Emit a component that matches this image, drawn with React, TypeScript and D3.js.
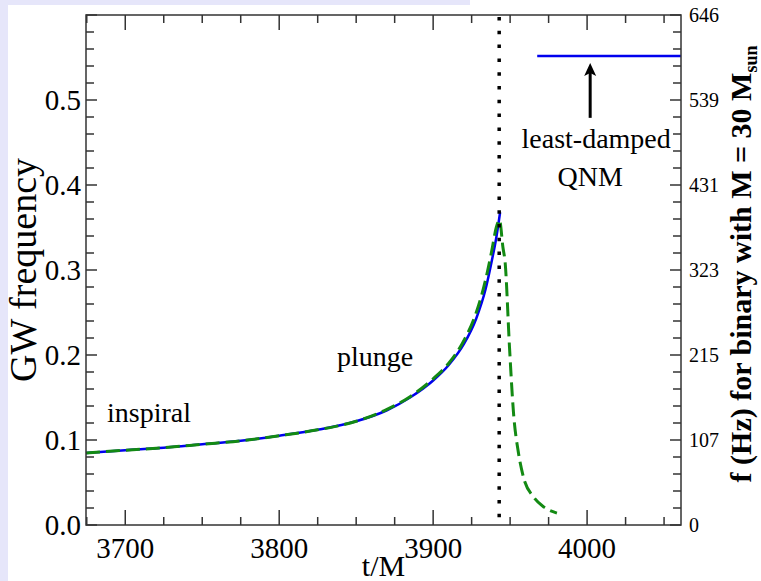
import React, { useEffect, useRef } from "react";
import * as d3 from "d3";

// axis labels / ticks
const xMajorTicks = [3700, 3800, 3900, 4000];
const yMajorTicks = [0, 0.1, 0.2, 0.3, 0.4, 0.5];
const hzTickLabels = ["0", "107", "215", "323", "431", "539", "646"];

// numerical relativity frequency (solid blue)
const blueTime = [3674.5, 3700, 3725, 3750, 3775, 3800, 3825, 3850, 3870, 3885, 3900, 3910, 3920, 3928, 3934, 3938, 3941, 3943.5];
const blueFreq = [0.0847, 0.088, 0.091, 0.095, 0.099, 0.105, 0.112, 0.122, 0.135, 0.15, 0.17, 0.188, 0.213, 0.243, 0.277, 0.31, 0.338, 0.368];

// model frequency (dashed green)
const greenTime = [3674.5, 3700, 3725, 3750, 3775, 3800, 3825, 3850, 3870, 3885, 3900, 3910, 3920, 3928, 3934, 3938, 3941, 3943.1, 3945.3, 3946.8, 3949.6, 3952.2, 3955.4, 3958.7, 3965.2, 3972, 3980.4];
const greenFreq = [0.0847, 0.088, 0.091, 0.095, 0.099, 0.105, 0.112, 0.122, 0.136, 0.151, 0.172, 0.19, 0.217, 0.25, 0.288, 0.322, 0.35, 0.359, 0.327, 0.308, 0.209, 0.132, 0.085, 0.056, 0.033, 0.021, 0.014];

const mergerTime = 3942.9;
const qnmTime = [3967.6, 4061];
const qnmFreq = 0.5518;
const arrowTime = 4002;
const arrowFreq = [0.479, 0.5435];

const Chart = () => {
  const ref = useRef<SVGSVGElement>(null);

  useEffect(() => {
    const width = 761;
    const height = 581;
    const margin = { top: 15, right: 80, bottom: 56, left: 86 };
    const serif = "'Liberation Serif', 'Times New Roman', serif";

    const svg = d3.select(ref.current);
    svg.selectAll("*").remove();
    svg.attr("width", width).attr("height", height);

    // lavender page strips
    svg.append("rect").attr("x", 0).attr("y", 0).attr("width", 470).attr("height", 5).attr("fill", "#e6e6fa");
    svg.append("rect").attr("x", 0).attr("y", 0).attr("width", 8).attr("height", height).attr("fill", "#e6e6fa");

    const x = d3
      .scaleLinear()
      .domain([3674.5, 4061])
      .range([margin.left, width - margin.right]);
    const y = d3
      .scaleLinear()
      .domain([0, 0.6])
      .range([height - margin.bottom, margin.top]);

    const x0 = x.range()[0];
    const x1 = x.range()[1];
    const y0 = y.range()[0];
    const y1 = y.range()[1];

    const g = svg.append("g");

    // curves
    const line = d3
      .line<[number, number]>()
      .x((d) => x(d[0]))
      .y((d) => y(d[1]))
      .curve(d3.curveMonotoneX);

    g.append("path")
      .attr("d", line(blueTime.map((t, i) => [t, blueFreq[i]]) as [number, number][]))
      .attr("fill", "none")
      .attr("stroke", "#0000ee")
      .attr("stroke-width", 2.5);

    g.append("path")
      .attr("d", line(greenTime.map((t, i) => [t, greenFreq[i]]) as [number, number][]))
      .attr("fill", "none")
      .attr("stroke", "#138a13")
      .attr("stroke-width", 3)
      .attr("stroke-dasharray", "14 6");

    // merger marker
    g.append("line")
      .attr("x1", x(mergerTime))
      .attr("x2", x(mergerTime))
      .attr("y1", y1 + 2)
      .attr("y2", y0)
      .attr("stroke", "black")
      .attr("stroke-width", 3.5)
      .attr("stroke-dasharray", "3.5 10.3");

    // QNM line
    g.append("line")
      .attr("x1", x(qnmTime[0]))
      .attr("x2", x(qnmTime[1]))
      .attr("y1", y(qnmFreq))
      .attr("y2", y(qnmFreq))
      .attr("stroke", "#0000ee")
      .attr("stroke-width", 2.5);

    // arrow
    const ax = x(arrowTime);
    const tip = y(arrowFreq[1]);
    g.append("line")
      .attr("x1", ax)
      .attr("x2", ax)
      .attr("y1", y(arrowFreq[0]))
      .attr("y2", tip + 8)
      .attr("stroke", "black")
      .attr("stroke-width", 3);
    g.append("path")
      .attr("d", `M${ax},${tip} L${ax - 6},${tip + 13} L${ax},${tip + 10} L${ax + 6},${tip + 13} Z`)
      .attr("fill", "black");

    // frame
    const axisColor = "#333";
    g.append("rect")
      .attr("x", x0)
      .attr("y", y1)
      .attr("width", x1 - x0)
      .attr("height", y0 - y1)
      .attr("fill", "none")
      .attr("stroke", axisColor)
      .attr("stroke-width", 1.5);

    const xMinor = d3.range(3675, 4061, 25).filter((v) => !xMajorTicks.includes(v));
    const yMinor = d3.range(0, 31).map((i) => i * 0.02);

    const ticks = g.append("g").attr("stroke", axisColor).attr("stroke-width", 1.5);
    xMajorTicks.forEach((v) => {
      ticks.append("line").attr("x1", x(v)).attr("x2", x(v)).attr("y1", y0).attr("y2", y0 - 15);
      ticks.append("line").attr("x1", x(v)).attr("x2", x(v)).attr("y1", y1).attr("y2", y1 + 15);
    });
    xMinor.forEach((v) => {
      ticks.append("line").attr("x1", x(v)).attr("x2", x(v)).attr("y1", y0).attr("y2", y0 - 8);
      ticks.append("line").attr("x1", x(v)).attr("x2", x(v)).attr("y1", y1).attr("y2", y1 + 8);
    });
    yMinor.forEach((v, i) => {
      const len = i % 5 === 0 ? 11 : 8;
      ticks.append("line").attr("x1", x0).attr("x2", x0 + len).attr("y1", y(v)).attr("y2", y(v));
      ticks.append("line").attr("x1", x1).attr("x2", x1 - len).attr("y1", y(v)).attr("y2", y(v));
    });

    // tick labels
    const labels = g.append("g").attr("font-family", serif).attr("fill", "black");
    xMajorTicks.forEach((v) => {
      labels
        .append("text")
        .attr("x", x(v))
        .attr("y", y0 + 33)
        .attr("text-anchor", "middle")
        .attr("font-size", 29)
        .text(v);
    });
    yMajorTicks.forEach((v) => {
      labels
        .append("text")
        .attr("x", x0 - 5)
        .attr("y", y(v))
        .attr("dy", "0.35em")
        .attr("text-anchor", "end")
        .attr("font-size", 29)
        .text(v.toFixed(1));
    });
    hzTickLabels.forEach((s, i) => {
      labels
        .append("text")
        .attr("x", x1 + 8)
        .attr("y", y(i * 0.1))
        .attr("dy", "0.35em")
        .attr("font-size", 20)
        .text(s);
    });

    // axis titles
    labels
      .append("text")
      .attr("x", (x0 + x1) / 2)
      .attr("y", 576)
      .attr("text-anchor", "middle")
      .attr("font-size", 30)
      .text("t/M");
    labels
      .append("text")
      .attr("transform", `translate(36, ${(y0 + y1) / 2}) rotate(-90)`)
      .attr("text-anchor", "middle")
      .attr("font-size", 38)
      .text("GW frequency");
    const right = labels
      .append("text")
      .attr("transform", `translate(751, ${(y0 + y1) / 2 - 6}) rotate(-90)`)
      .attr("text-anchor", "middle")
      .attr("font-size", 30)
      .attr("font-weight", "bold");
    right.append("tspan").text("f (Hz) for binary with M = 30 M");
    right.append("tspan").attr("dy", 6).attr("font-size", 18).text("sun");

    // annotations
    labels.append("text").attr("x", 107).attr("y", 422).attr("font-size", 28).text("inspiral");
    labels.append("text").attr("x", 337).attr("y", 366).attr("font-size", 28).text("plunge");
    labels
      .append("text")
      .attr("x", ax + 6)
      .attr("y", 148)
      .attr("text-anchor", "middle")
      .attr("font-size", 28)
      .text("least-damped");
    labels
      .append("text")
      .attr("x", ax)
      .attr("y", 186)
      .attr("text-anchor", "middle")
      .attr("font-size", 28)
      .text("QNM");
  }, []);

  return <svg ref={ref} style={{ position: "absolute", left: 0, top: 0 }}></svg>;
};

export default function App() {
  return (
    <div style={{ background: "white" }}>
      <Chart />
    </div>
  );
}
